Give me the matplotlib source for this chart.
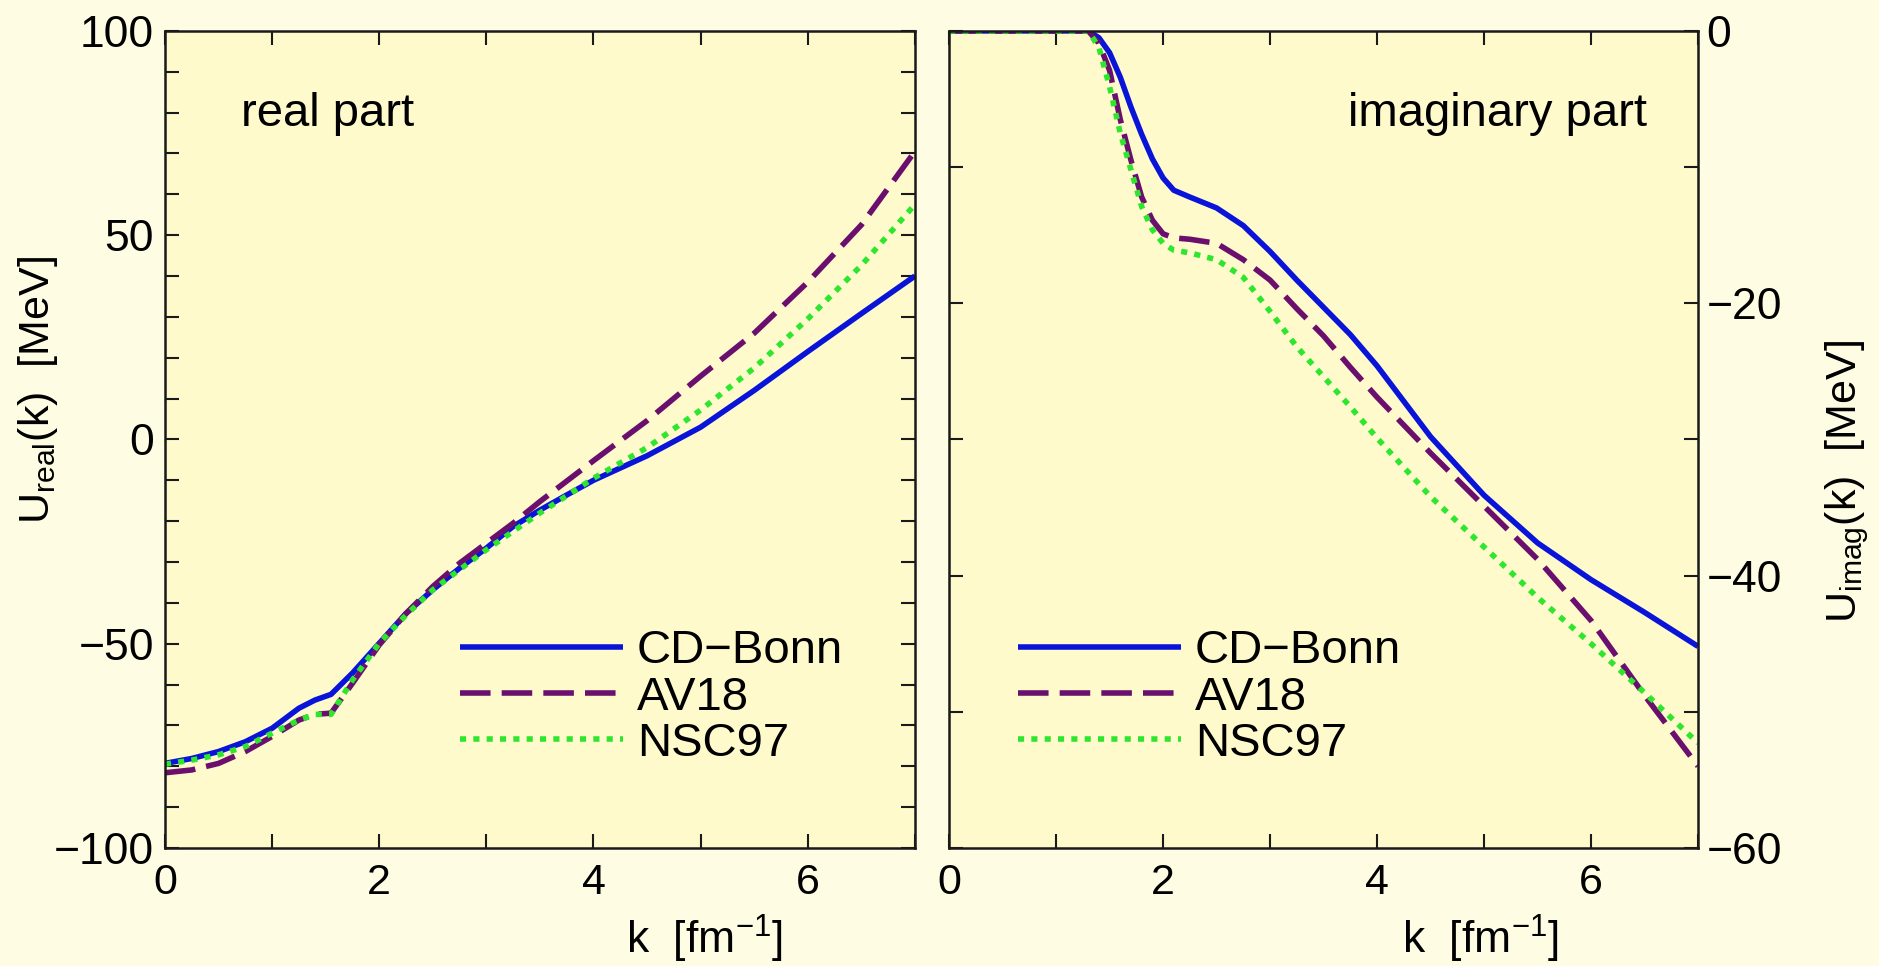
import matplotlib
matplotlib.use('Agg')
import matplotlib.pyplot as plt
from matplotlib.ticker import FixedLocator, FuncFormatter

plt.rcParams['font.family'] = ['Liberation Sans', 'DejaVu Sans']
plt.rcParams['mathtext.fontset'] = 'custom'
plt.rcParams['mathtext.rm'] = 'Liberation Sans'
plt.rcParams['mathtext.it'] = 'Liberation Sans:italic'

# real part U_real(k) [MeV]
k_real = [0.0, 0.25, 0.5, 0.75, 1.0, 1.25, 1.4, 1.55, 1.75, 2.0, 2.25, 2.5, 2.75,
          3.0, 3.25, 3.5, 3.75, 4.0, 4.5, 5.0, 5.5, 6.0, 6.5, 7.0]
real_cdbonn = [-79.3, -78.1, -76.4, -74.0, -70.7, -65.8, -63.8, -62.4, -57.2, -49.9, -42.6, -36.8, -31.5,
               -26.6, -21.3, -17.3, -13.6, -10.0, -4.0, 3.0, 12.0, 21.5, 30.8, 40.0]
real_av18 = [-81.6, -80.9, -79.3, -76.4, -72.7, -68.7, -67.3, -67.0, -59.7, -50.3, -42.6, -36.0, -30.3,
             -25.4, -20.5, -15.2, -10.2, -5.2, 4.6, 15.5, 26.0, 38.5, 52.5, 70.5]
real_nsc97 = [-79.5, -78.5, -77.2, -75.2, -71.9, -68.7, -67.3, -67.3, -58.9, -49.9, -43.0, -36.8, -31.9,
              -27.0, -22.5, -18.0, -13.8, -9.5, -2.0, 7.2, 17.5, 29.5, 42.6, 57.5]

# imaginary part U_imag(k) [MeV]
k_imag = [0.0, 1.0, 1.3, 1.4, 1.5, 1.6, 1.7, 1.8, 1.9, 2.0, 2.1, 2.25, 2.5, 2.75,
          3.0, 3.25, 3.5, 3.75, 4.0, 4.5, 5.0, 5.5, 6.0, 6.5, 7.0]
imag_cdbonn = [0.0, 0.0, 0.0, -0.5, -1.6, -3.4, -5.6, -7.6, -9.4, -10.8, -11.7, -12.2, -13.0, -14.3,
               -16.2, -18.3, -20.3, -22.3, -24.6, -29.8, -34.1, -37.6, -40.3, -42.7, -45.2]
imag_av18 = [0.0, 0.0, 0.0, -0.9, -2.9, -6.5, -9.5, -12.2, -13.9, -14.9, -15.2, -15.3, -15.6, -16.8,
             -18.3, -20.4, -22.4, -24.7, -26.9, -31.0, -34.9, -38.8, -43.3, -48.8, -54.0]
imag_nsc97 = [0.0, 0.0, 0.0, -1.2, -4.1, -7.5, -10.2, -12.9, -14.6, -15.6, -16.1, -16.3, -16.8, -18.1,
              -20.6, -23.2, -25.4, -27.6, -29.9, -34.2, -37.9, -41.6, -45.0, -48.6, -52.3]

labels = ['CD\u2212Bonn', 'AV18', 'NSC97']

FIG_BG = '#FEFDE3'
AX_BG = '#FEFACB'
SPINE = '#1a1a1a'
BLUE = '#0a14d8'
PURPLE = '#6a0f6e'
GREEN = '#2ee62e'
LW = 4.0


def style_axes(ax):
    ax.set_facecolor(AX_BG)
    for sp in ax.spines.values():
        sp.set_linewidth(1.8)
        sp.set_color(SPINE)
    ax.tick_params(which='both', direction='in', length=10, width=1.5, color=SPINE,
                   top=True, bottom=True, left=True, right=True)
    ax.tick_params(axis='x', labelsize=31, pad=11)
    ax.tick_params(axis='y', labelsize=32)
    ax.set_xlim(0, 7)
    ax.xaxis.set_major_locator(FixedLocator(range(0, 8)))
    ax.xaxis.set_major_formatter(FuncFormatter(lambda v, p: '%d' % v if v % 2 == 0 and v < 7 else ''))


def draw_curves(ax, k, cd, av, nsc):
    ax.plot(k, cd, color=BLUE, lw=LW, solid_capstyle='butt', solid_joinstyle='round', label=labels[0])
    ax.plot(k, av, color=PURPLE, lw=LW, dashes=(5.5, 2.0), dash_capstyle='butt', label=labels[1])
    ax.plot(k, nsc, color=GREEN, lw=LW, dashes=(1.1, 1.3), dash_capstyle='butt', label=labels[2])


def add_legend(ax, x):
    ax.legend(loc='center left', bbox_to_anchor=(x, 0.184), frameon=False, fontsize=34,
              handlelength=3.45, handletextpad=0.3, labelspacing=0.05, borderpad=0,
              borderaxespad=0)


def main():
    fig = plt.figure(figsize=(18.79, 9.66), dpi=100, facecolor=FIG_BG)

    # left panel: real part
    ax1 = fig.add_axes([0.0878, 0.1222, 0.3991, 0.8458])
    style_axes(ax1)
    draw_curves(ax1, k_real, real_cdbonn, real_av18, real_nsc97)
    ax1.set_ylim(-100, 100)
    ax1.yaxis.set_major_locator(FixedLocator(range(-100, 101, 10)))
    ax1.yaxis.set_major_formatter(FuncFormatter(
        lambda v, p: ('%d' % v).replace('-', '\u2212') if round(v) % 50 == 0 else ''))
    ax1.tick_params(axis='y', pad=8)
    ax1.text(0.71, 76.7, 'real part', fontsize=34, ha='left', va='baseline')
    add_legend(ax1, 0.393)
    ax1.set_xlabel(r'k  [fm$^{-1}$]', fontsize=32)
    ax1.xaxis.set_label_coords(0.72, -0.08)
    ax1.set_ylabel(r'U$_{\mathrm{real}}$(k)  [MeV]', fontsize=31)
    ax1.yaxis.set_label_coords(-0.14, 0.56)

    # right panel: imaginary part
    ax2 = fig.add_axes([0.5051, 0.1222, 0.3986, 0.8458])
    style_axes(ax2)
    draw_curves(ax2, k_imag, imag_cdbonn, imag_av18, imag_nsc97)
    ax2.set_ylim(-60, 0)
    ax2.yaxis.set_major_locator(FixedLocator(range(-60, 1, 10)))
    ax2.yaxis.set_major_formatter(FuncFormatter(
        lambda v, p: ('%d' % v).replace('-', '\u2212') if round(v) % 20 == 0 else ''))
    ax2.tick_params(axis='y', labelleft=False, labelright=True, pad=6)
    ax2.text(6.52, -6.98, 'imaginary part', fontsize=34, ha='right', va='baseline')
    add_legend(ax2, 0.092)
    ax2.set_xlabel(r'k  [fm$^{-1}$]', fontsize=32)
    ax2.xaxis.set_label_coords(0.71, -0.08)
    ax2.yaxis.set_label_position('right')
    ax2.set_ylabel(r'U$_{\mathrm{imag}}$(k)  [MeV]', fontsize=31, rotation=90)
    ax2.yaxis.set_label_coords(1.167, 0.449)

    fig.savefig('out.png', dpi=100, facecolor=FIG_BG)
    plt.close(fig)


if __name__ == "__main__":
    main()
